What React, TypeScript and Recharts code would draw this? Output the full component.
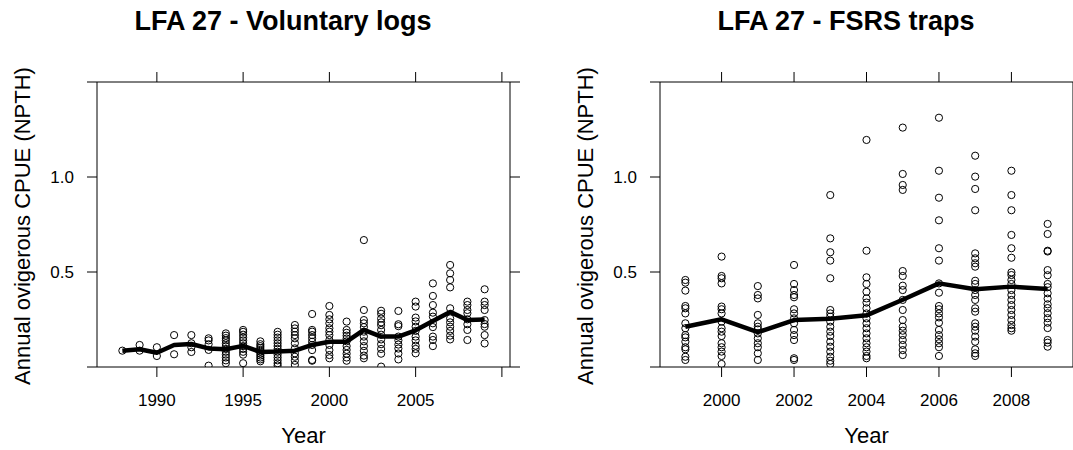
import React from "react";
import { ScatterChart, Scatter, XAxis, YAxis } from "recharts";

// voluntary logs, one list of annual CPUE per year
const logYears = [
  1988, 1989, 1990, 1991, 1992, 1993, 1994, 1995, 1996, 1997, 1998,
  1999, 2000, 2001, 2002, 2003, 2004, 2005, 2006, 2007, 2008, 2009,
];
const logValues = [
  [0.086],
  [0.116, 0.086],
  [0.104, 0.058],
  [0.168, 0.067],
  [0.168, 0.125, 0.104, 0.079],
  [0.151, 0.14, 0.12, 0.09, 0.007],
  [0.177, 0.165, 0.152, 0.14, 0.125, 0.11, 0.095, 0.08, 0.065, 0.05, 0.035, 0.02],
  [0.195, 0.185, 0.17, 0.155, 0.14, 0.125, 0.11, 0.095, 0.08, 0.065, 0.02],
  [0.135, 0.12, 0.11, 0.1, 0.09, 0.08, 0.07, 0.06, 0.05, 0.04, 0.03],
  [0.185, 0.17, 0.155, 0.14, 0.125, 0.11, 0.095, 0.08, 0.065, 0.05, 0.035, 0.02, 0.008],
  [0.221, 0.203, 0.186, 0.168, 0.151, 0.125, 0.098, 0.072, 0.054, 0.033, 0.011],
  [0.279, 0.195, 0.186, 0.168, 0.151, 0.133, 0.116, 0.089, 0.037, 0.033],
  [0.321, 0.274, 0.251, 0.23, 0.204, 0.186, 0.168, 0.142, 0.116, 0.089, 0.063, 0.046],
  [0.239, 0.195, 0.18, 0.165, 0.15, 0.135, 0.11, 0.09, 0.07, 0.05, 0.033],
  [0.668, 0.3, 0.247, 0.23, 0.21, 0.186, 0.16, 0.135, 0.11, 0.085, 0.06, 0.046],
  [0.296, 0.28, 0.255, 0.235, 0.22, 0.195, 0.17, 0.145, 0.12, 0.095, 0.07, 0.002],
  [0.295, 0.225, 0.215, 0.16, 0.14, 0.118, 0.097, 0.071, 0.04],
  [0.344, 0.318, 0.26, 0.24, 0.212, 0.19, 0.16, 0.14, 0.112, 0.095, 0.072],
  [0.44, 0.374, 0.326, 0.286, 0.265, 0.23, 0.21, 0.16, 0.142, 0.11],
  [0.537, 0.493, 0.458, 0.419, 0.309, 0.256, 0.235, 0.212, 0.19, 0.165, 0.145],
  [0.344, 0.326, 0.3, 0.283, 0.251, 0.225, 0.195, 0.142],
  [0.409, 0.344, 0.326, 0.3, 0.247, 0.226, 0.212, 0.168, 0.124],
];
const logMeans = [
  0.086, 0.093, 0.075, 0.116, 0.121, 0.098, 0.093, 0.111, 0.079, 0.081, 0.086,
  0.116, 0.133, 0.133, 0.195, 0.16, 0.16, 0.193, 0.242, 0.29, 0.247, 0.25,
];

// FSRS traps
const fsrsYears = [1999, 2000, 2001, 2002, 2003, 2004, 2005, 2006, 2007, 2008, 2009];
const fsrsValues = [
  [0.458, 0.444, 0.402, 0.321, 0.309, 0.282, 0.23, 0.204, 0.168, 0.156, 0.133, 0.104, 0.093, 0.054, 0.037],
  [0.581, 0.479, 0.467, 0.44, 0.318, 0.304, 0.282, 0.239, 0.204, 0.186, 0.163, 0.125, 0.104, 0.081, 0.058, 0.016],
  [0.426, 0.379, 0.361, 0.274, 0.23, 0.212, 0.198, 0.177, 0.151, 0.125, 0.104, 0.072, 0.037],
  [0.537, 0.437, 0.405, 0.379, 0.367, 0.304, 0.282, 0.256, 0.23, 0.195, 0.168, 0.142, 0.046, 0.037],
  [0.905, 0.677, 0.604, 0.56, 0.467, 0.3, 0.282, 0.265, 0.239, 0.212, 0.186, 0.163, 0.133, 0.107, 0.081, 0.054, 0.033, 0.016],
  [1.195, 0.612, 0.472, 0.437, 0.396, 0.361, 0.339, 0.309, 0.282, 0.256, 0.23, 0.204, 0.177, 0.151, 0.125, 0.104, 0.081, 0.058, 0.046],
  [1.26, 1.016, 0.958, 0.932, 0.505, 0.479, 0.428, 0.405, 0.353, 0.3, 0.247, 0.212, 0.191, 0.168, 0.142, 0.116, 0.089, 0.063],
  [1.312, 1.033, 0.891, 0.772, 0.625, 0.56, 0.44, 0.391, 0.321, 0.304, 0.282, 0.261, 0.233, 0.195, 0.168, 0.146, 0.125, 0.104, 0.058],
  [1.112, 1.002, 0.937, 0.825, 0.598, 0.572, 0.546, 0.528, 0.454, 0.437, 0.405, 0.379, 0.353, 0.309, 0.291, 0.23, 0.212, 0.191, 0.16, 0.133, 0.093, 0.072, 0.058],
  [1.033, 0.905, 0.825, 0.695, 0.625, 0.575, 0.498, 0.484, 0.458, 0.437, 0.405, 0.379, 0.353, 0.326, 0.3, 0.274, 0.247, 0.221, 0.204, 0.191],
  [0.753, 0.7, 0.612, 0.608, 0.51, 0.483, 0.437, 0.42, 0.388, 0.36, 0.33, 0.31, 0.283, 0.257, 0.233, 0.205, 0.142, 0.128, 0.107],
];
const fsrsMeans = [0.212, 0.251, 0.183, 0.247, 0.254, 0.272, 0.354, 0.44, 0.409, 0.423, 0.41];

const logTicks = [1990, 1995, 2000, 2005, 2010];
const fsrsTicks = [2000, 2002, 2004, 2006, 2008];
const cpueTicks = [0, 0.5, 1, 1.5];
const labelledCpue = [0.5, 1];
const labelledLogYears = [1990, 1995, 2000, 2005];

const FONT = "'Liberation Sans', Arial, Helvetica, sans-serif";
const tickStyle = { fontSize: 17, fill: "#000", fontFamily: FONT };
const axisLine = { stroke: "#000", strokeWidth: 1 };

const OpenDot = (p: any) => (
  <circle cx={p.cx} cy={p.cy} r={3.6} fill="none" stroke="#000" strokeWidth={1} />
);

function Panel({ years, values, means, ticks, domain, labelled }: any) {
  const points = years.flatMap((y: number, i: number) =>
    values[i].map((v: number) => ({ year: y, cpue: v }))
  );
  const meanLine = years.map((y: number, i: number) => ({ year: y, cpue: means[i] }));

  return (
    <ScatterChart
      width={536}
      height={450}
      margin={{ top: 52, right: 6, bottom: 53, left: 37 }}
      style={{ fontFamily: FONT }}
    >
      <XAxis
        xAxisId="b"
        type="number"
        dataKey="year"
        domain={domain}
        allowDataOverflow
        ticks={ticks}
        interval={0}
        height={30}
        tickSize={10}
        tickMargin={17}
        tick={tickStyle}
        axisLine={axisLine}
        tickLine={axisLine}
        tickFormatter={(v: number) => (labelled.includes(v) ? String(v) : "")}
      />
      <XAxis
        xAxisId="t"
        orientation="top"
        type="number"
        dataKey="year"
        domain={domain}
        allowDataOverflow
        ticks={ticks}
        interval={0}
        height={30}
        tickSize={10}
        tick={tickStyle}
        axisLine={axisLine}
        tickLine={axisLine}
        tickFormatter={() => ""}
      />
      <YAxis
        yAxisId="l"
        type="number"
        dataKey="cpue"
        domain={[0, 1.5]}
        allowDataOverflow
        ticks={cpueTicks}
        interval={0}
        width={60}
        tickSize={10}
        tickMargin={13}
        tick={tickStyle}
        axisLine={axisLine}
        tickLine={axisLine}
        tickFormatter={(v: number) => (labelledCpue.includes(v) ? v.toFixed(1) : "")}
      />
      <YAxis
        yAxisId="r"
        orientation="right"
        type="number"
        dataKey="cpue"
        domain={[0, 1.5]}
        allowDataOverflow
        ticks={cpueTicks}
        interval={0}
        width={20}
        tickSize={10}
        tick={tickStyle}
        axisLine={axisLine}
        tickLine={axisLine}
        tickFormatter={() => ""}
      />
      <Scatter
        xAxisId="b"
        yAxisId="l"
        data={points}
        shape={OpenDot}
        isAnimationActive={false}
      />
      <Scatter
        xAxisId="t"
        yAxisId="r"
        data={meanLine}
        line={{ stroke: "#000", strokeWidth: 4.5, strokeLinejoin: "round" }}
        lineJointType="linear"
        shape={() => <g />}
        isAnimationActive={false}
      />
    </ScatterChart>
  );
}

export default function App() {
  return (
    <div
      style={{
        position: "absolute",
        left: 0,
        top: 0,
        width: 1073,
        height: 450,
        overflow: "hidden",
        background: "#fff",
      }}
    >
      <div style={{ position: "absolute", left: 0, top: 0 }}>
        <Panel
          years={logYears}
          values={logValues}
          means={logMeans}
          ticks={logTicks}
          domain={[1986.53, 2010.47]}
          labelled={labelledLogYears}
        />
      </div>
      <div style={{ position: "absolute", left: 563, top: 0 }}>
        <Panel
          years={fsrsYears}
          values={fsrsValues}
          means={fsrsMeans}
          ticks={fsrsTicks}
          domain={[1998.3, 2009.7]}
          labelled={fsrsTicks}
        />
      </div>
      <svg
        width={1073}
        height={450}
        style={{ position: "absolute", left: 0, top: 0, pointerEvents: "none" }}
        fontFamily={FONT}
      >
        <text x={283} y={30} textAnchor="middle" fontSize={27} fontWeight="bold">
          LFA 27 - Voluntary logs
        </text>
        <text x={846} y={30} textAnchor="middle" fontSize={27} fontWeight="bold">
          LFA 27 - FSRS traps
        </text>
        <text x={303.5} y={443} textAnchor="middle" fontSize={22}>
          Year
        </text>
        <text x={866.5} y={443} textAnchor="middle" fontSize={22}>
          Year
        </text>
        <text transform="translate(30,226) rotate(-90)" textAnchor="middle" fontSize={22}>
          Annual ovigerous CPUE (NPTH)
        </text>
        <text transform="translate(593,226) rotate(-90)" textAnchor="middle" fontSize={22}>
          Annual ovigerous CPUE (NPTH)
        </text>
      </svg>
    </div>
  );
}
